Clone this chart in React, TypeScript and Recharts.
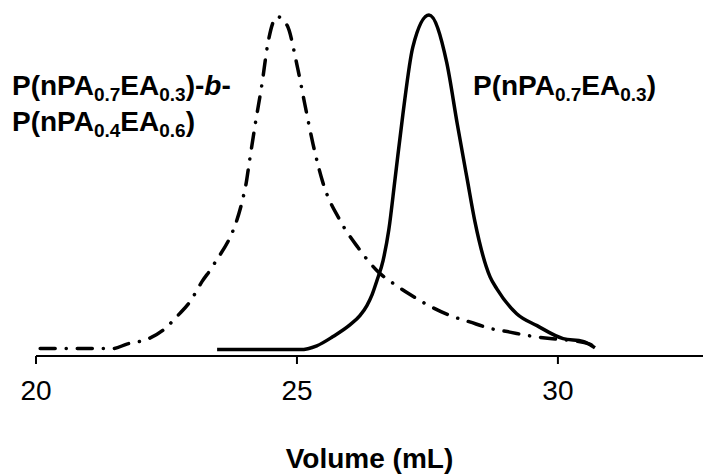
import { LineChart, Line, XAxis, YAxis, Label } from "recharts";

// elution volume (mL) and detector signal (scaled so the tallest peak is 100)
const blockVolume = [
  20.08, 21.48, 21.74, 22.13, 22.43, 22.72, 22.95, 23.18, 23.39, 24.02, 24.08, 24.2, 24.33,
  24.44, 24.62, 24.81, 25.0, 25.15, 25.31, 25.5, 25.82, 26.17, 26.53, 26.92, 27.16, 27.49,
  27.93, 28.31, 28.7, 29.08, 29.46, 29.85, 30.23, 30.61, 30.71,
];
const blockSignal = [
  2.2, 2.2, 3.5, 4.9, 7.5, 11.9, 15.9, 21.8, 26.4, 50.1, 56.1, 67.9, 79.8, 91.4, 99.5, 97.0,
  85.4, 73.9, 62.0, 50.7, 39.9, 31.8, 25.1, 20.5, 18.1, 15.1, 11.9, 10.0, 8.1, 7.0, 5.9, 5.1,
  4.6, 3.5, 2.4,
];

const homoVolume = [
  23.47, 25.06, 25.38, 25.69, 26.02, 26.21, 26.34, 26.44, 26.53, 26.65, 26.76, 26.88, 27.03,
  27.22, 27.53, 27.87, 28.07, 28.26, 28.41, 28.7, 28.83, 29.21, 29.6, 30.1, 30.48, 30.71,
];
const homoSignal = [
  1.9, 1.9, 3.0, 5.7, 9.2, 11.9, 14.8, 18.0, 22.0, 28.0, 37.0, 52.0, 70.9, 90.6, 100, 86.0,
  68.2, 52.0, 39.4, 23.2, 19.7, 12.4, 8.9, 5.1, 4.3, 2.4,
];

const xTicks = [20, 25, 30];

const blockData = blockVolume.map((x, i) => ({ x, y: blockSignal[i] }));
const homoData = homoVolume.map((x, i) => ({ x, y: homoSignal[i] }));

const font = "'Liberation Sans', Arial, sans-serif";
const labelStyle: React.CSSProperties = {
  position: "absolute",
  fontFamily: font,
  fontWeight: "bold",
  fontSize: 28,
  color: "#000",
  whiteSpace: "nowrap",
  lineHeight: "36px",
};
const sub: React.CSSProperties = { fontSize: 19, verticalAlign: "-0.3em" };

export default function App() {
  return (
    <div style={{ position: "absolute", left: 0, top: 0, width: 703, height: 476, background: "#fff" }}>
      <LineChart
        width={703}
        height={476}
        margin={{ top: 15, right: 0, left: 36, bottom: 90 }}
      >
        <XAxis
          type="number"
          dataKey="x"
          domain={[20, 32.78]}
          ticks={xTicks}
          allowDataOverflow
          stroke="#000"
          strokeWidth={2}
          tickSize={8}
          tick={{ fill: "#000", fontSize: 28, fontFamily: font }}
          tickMargin={16}
        >
          <Label
            value="Volume (mL)"
            position="insideBottom"
            offset={-82}
            style={{ fill: "#000", fontSize: 28, fontWeight: "bold", fontFamily: font }}
          />
        </XAxis>
        <YAxis hide domain={[0, 100]} />
        <Line
          data={blockData}
          dataKey="y"
          type="monotone"
          stroke="#000"
          strokeWidth={3.5}
          strokeDasharray="15 11 0.1 11"
          strokeLinecap="round"
          dot={false}
          isAnimationActive={false}
        />
        <Line
          data={homoData}
          dataKey="y"
          type="monotone"
          stroke="#000"
          strokeWidth={3.5}
          dot={false}
          isAnimationActive={false}
        />
      </LineChart>
      <div style={{ ...labelStyle, left: 12, top: 68 }}>
        P(nPA<span style={sub}>0.7</span>EA<span style={sub}>0.3</span>)-<i>b</i>-
      </div>
      <div style={{ ...labelStyle, left: 12, top: 104 }}>
        P(nPA<span style={sub}>0.4</span>EA<span style={sub}>0.6</span>)
      </div>
      <div style={{ ...labelStyle, left: 473, top: 68 }}>
        P(nPA<span style={sub}>0.7</span>EA<span style={sub}>0.3</span>)
      </div>
    </div>
  );
}
